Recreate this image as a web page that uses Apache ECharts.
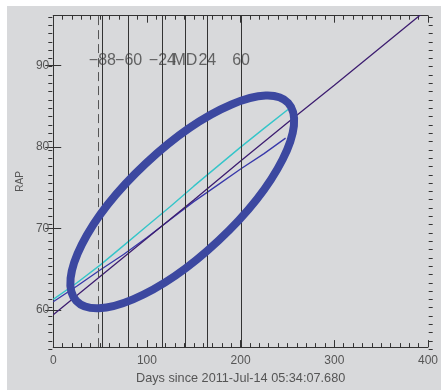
<!DOCTYPE html>
<html>
<head>
<meta charset="utf-8">
<script src="https://cdn.jsdelivr.net/npm/echarts@6/dist/echarts.min.js"></script>
<style>
  html, body { margin: 0; padding: 0; background: #ffffff; }
  #chart { position: absolute; left: 7px; top: 6px; width: 434px; height: 384px; }
</style>
</head>
<body>
<div id="chart"></div>
<script>
// RAP trends against days since the reference epoch
const cyanDays   = [0, 25, 50, 75, 100, 125, 150, 175, 200, 225, 257];
const cyanRap    = [61.3, 63.3, 65.5, 67.9, 70.3, 72.7, 75.2, 77.6, 80.0, 82.3, 85.2];
const blueDays   = [0, 25, 50, 75, 100, 125, 150, 175, 200, 225, 248];
const blueRap    = [61.0, 62.9, 64.9, 66.8, 68.9, 71.1, 73.3, 75.3, 77.3, 79.2, 81.1];
const purpleDays = [0, 50, 100, 150, 200, 250, 300, 350, 400];
const purpleRap  = [59.4, 64.1, 68.8, 73.5, 78.3, 83.0, 87.6, 92.3, 97.0];

// event markers (days) and their labels, relative to MD
const eventDays   = [52.5, 80.5, 116.5, 140.5, 164.5, 200.5];
const eventLabels = ['\u221288', '\u221260', '\u221224', 'MD', '24', '60'];
const dashedDay   = 48;
const eventLabelRap = 90.6;

// axis ticks
const xTicks = [0, 100, 200, 300, 400];
const yMajor = [60, 70, 80, 90];
const yMinor = [];
for (let v = 56; v <= 96; v++) yMinor.push(v);
const xRange = [0, 400];
const yRange = [55.43, 96.14];

// highlighted region (center in data units)
const ellipseCenter = [137.7, 73.26];

const FONT = 'Liberation Sans, Arial, sans-serif';
const AX = '#333333';
const gridRect = { left: 41.3, top: 9.7, width: 384.4, height: 338.3 };

const zip = (xs, ys) => xs.map((x, i) => [x, ys[i]]);

const chart = echarts.init(document.getElementById('chart'), null, { renderer: 'canvas' });

const baseX = {
  type: 'value', min: xRange[0], max: xRange[1], interval: 100,
  axisLine: { show: true, lineStyle: { color: AX, width: 1 } },
  axisTick: { show: true, inside: true, length: 7, lineStyle: { color: AX } },
  minorTick: { show: true, splitNumber: 10, length: 4, lineStyle: { color: AX } },
  splitLine: { show: false }
};
const baseY = {
  type: 'value', min: yRange[0], max: yRange[1],
  axisLine: { show: true, lineStyle: { color: AX, width: 1 } },
  axisTick: { show: true, inside: true, length: 8, customValues: yMajor, lineStyle: { color: AX } },
  splitLine: { show: false }
};

chart.setOption({
  backgroundColor: '#d8d9db',
  animation: false,
  grid: [
    Object.assign({}, gridRect, { containLabel: false }),
    Object.assign({}, gridRect, { containLabel: false })
  ],
  xAxis: [
    Object.assign({}, baseX, {
      gridIndex: 0, position: 'bottom',
      axisLabel: { color: '#555', fontSize: 12, fontFamily: FONT, margin: 8, customValues: xTicks },
      name: 'Days since 2011-Jul-14 05:34:07.680',
      nameLocation: 'middle', nameGap: 21,
      nameTextStyle: { color: '#555', fontSize: 12.7, fontFamily: FONT }
    }),
    Object.assign({}, baseX, { gridIndex: 0, position: 'top', axisLabel: { show: false } }),
    { type: 'value', gridIndex: 1, min: xRange[0], max: xRange[1], show: false }
  ],
  yAxis: [
    Object.assign({}, baseY, {
      gridIndex: 0, position: 'left',
      axisLabel: { color: '#555', fontSize: 12, fontFamily: FONT, margin: 4, customValues: yMajor },
      name: 'RAP', nameLocation: 'middle', nameGap: 25,
      nameTextStyle: { color: '#555', fontSize: 10, fontFamily: FONT }
    }),
    Object.assign({}, baseY, { gridIndex: 0, position: 'right', axisLabel: { show: false } }),
    {
      type: 'value', gridIndex: 1, position: 'left', min: yRange[0], max: yRange[1],
      axisLine: { show: false }, axisLabel: { show: false }, splitLine: { show: false },
      axisTick: { show: true, inside: true, length: 4, customValues: yMinor, lineStyle: { color: AX } }
    },
    {
      type: 'value', gridIndex: 1, position: 'right', min: yRange[0], max: yRange[1],
      axisLine: { show: false }, axisLabel: { show: false }, splitLine: { show: false },
      axisTick: { show: true, inside: true, length: 4, customValues: yMinor, lineStyle: { color: AX } }
    }
  ],
  series: [
    {
      name: 'events', type: 'scatter', xAxisIndex: 0, yAxisIndex: 0,
      symbolSize: 0, silent: true,
      data: eventDays.map(d => [d, eventLabelRap]),
      label: {
        show: true, position: 'inside',
        formatter: p => eventLabels[p.dataIndex],
        color: '#444', fontSize: 16, fontFamily: FONT
      },
      markLine: {
        silent: true, symbol: ['none', 'none'], animation: false,
        label: { show: false },
        lineStyle: { color: '#333', width: 1, type: 'solid' },
        data: eventDays.map(d => ({ xAxis: d })).concat([
          { xAxis: dashedDay, lineStyle: { color: '#555', width: 1, type: [9, 5] } }
        ])
      }
    },
    {
      name: 'cyan', type: 'line', xAxisIndex: 0, yAxisIndex: 0,
      data: zip(cyanDays, cyanRap), showSymbol: false,
      lineStyle: { color: '#35c5c9', width: 1.4 }, z: 3
    },
    {
      name: 'blue', type: 'line', xAxisIndex: 0, yAxisIndex: 0,
      data: zip(blueDays, blueRap), showSymbol: false,
      lineStyle: { color: '#3838aa', width: 1.3 }, z: 3
    },
    {
      name: 'purple', type: 'line', xAxisIndex: 0, yAxisIndex: 0,
      data: zip(purpleDays, purpleRap), showSymbol: false, clip: true,
      lineStyle: { color: '#3d1d70', width: 1.3 }, z: 4
    }
  ]
});

// highlight ellipse around the early trend region
const c = chart.convertToPixel({ gridIndex: 0 }, ellipseCenter);
chart.setOption({
  graphic: [{
    type: 'ellipse', x: c[0], y: c[1], rotation: 43.1 * Math.PI / 180,
    shape: { cx: 0, cy: 0, rx: 145, ry: 53 },
    style: { fill: 'none', stroke: '#3c48a0', lineWidth: 8 },
    z: 100, silent: true
  }]
});
</script>
</body>
</html>
